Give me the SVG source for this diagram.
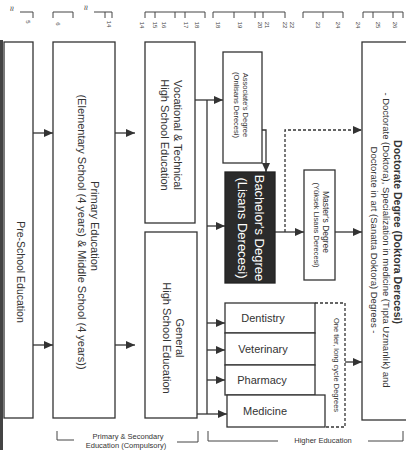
<svg xmlns="http://www.w3.org/2000/svg" width="406" height="450" viewBox="0 0 406 450">
<style>
.box{fill:#fff;stroke:#333;stroke-width:1.3}
.dark{fill:#2b2b2b;stroke:#222;stroke-width:1.3}
.t{font-family:"Liberation Sans",Arial,sans-serif;fill:#333;text-anchor:middle;dominant-baseline:central}
.w{fill:#fff}
.ln{stroke:#333;stroke-width:1.3;fill:none}
.dash{stroke:#333;stroke-width:1.3;fill:none;stroke-dasharray:3 2}
.tk{stroke:#444;stroke-width:1;fill:none}
.n{font-family:"Liberation Sans",Arial,sans-serif;fill:#444;font-size:6px;text-anchor:middle;dominant-baseline:central}
</style>
<defs>
<marker id="ah" markerWidth="9" markerHeight="8" refX="9" refY="4" orient="auto" markerUnits="userSpaceOnUse">
<path d="M0,0 L9,4 L0,8 z" fill="#333"/>
</marker>
</defs>
<rect x="0" y="0" width="406" height="450" fill="#fff"/>
<rect x="0" y="40" width="3" height="410" fill="#444"/>

<g id="ages">
<text class="t" x="12" y="9" font-size="9" transform="rotate(90 12 9)">≈</text>
<path class="tk" d="M20,12 H33 V18"/>
<text class="n" x="28" y="22" transform="rotate(90 28 22)">5</text>
<path class="tk" d="M53,18 V12 H73 V18"/>
<text class="n" x="58" y="24" transform="rotate(90 58 24)">6</text>
<text class="t" x="86" y="8" font-size="9" transform="rotate(90 86 8)">≈</text>
<path class="tk" d="M94,12 H112 V18 M105,12 V18"/>
<text class="n" x="109" y="24" transform="rotate(90 109 24)">14</text>
<path class="tk" d="M145,18 V12 H205 V18 M155,12 V18 M175,12 V18 M185,12 V18"/>
<text class="n" x="142" y="25" transform="rotate(90 142 25)">14</text>
<text class="n" x="155" y="25" transform="rotate(90 155 25)">15</text>
<text class="n" x="164" y="25" transform="rotate(90 164 25)">16</text>
<text class="n" x="186" y="25" transform="rotate(90 186 25)">17</text>
<text class="n" x="197" y="25" transform="rotate(90 197 25)">18</text>
<path class="tk" d="M213,18 V12 H285 V18 M234,12 V18 M255,12 V18 M263,12 V18"/>
<text class="n" x="218" y="25" transform="rotate(90 218 25)">18</text>
<text class="n" x="240" y="25" transform="rotate(90 240 25)">19</text>
<text class="n" x="260" y="25" transform="rotate(90 260 25)">20</text>
<text class="n" x="267" y="25" transform="rotate(90 267 25)">21</text>
<text class="n" x="285" y="25" transform="rotate(90 285 25)">22</text>
<text class="n" x="292" y="25" transform="rotate(90 292 25)">22</text>
<path class="tk" d="M303,18 V12 H343 V18 M323,12 V18"/>
<text class="n" x="318" y="25" transform="rotate(90 318 25)">23</text>
<text class="n" x="338" y="25" transform="rotate(90 338 25)">24</text>
<path class="tk" d="M363,18 V12 H403 V18 M373,12 V18 M393,12 V18"/>
<text class="n" x="358" y="25" transform="rotate(90 358 25)">24</text>
<text class="n" x="378" y="25" transform="rotate(90 378 25)">25</text>
<text class="n" x="395" y="25" transform="rotate(90 395 25)">26</text>
</g>

<g id="connectors">
<line class="ln" x1="33" y1="133" x2="53" y2="133" marker-end="url(#ah)"/>
<line class="ln" x1="33" y1="345" x2="53" y2="345" marker-end="url(#ah)"/>
<line class="ln" x1="115" y1="133" x2="135" y2="133" marker-end="url(#ah)"/>
<line class="ln" x1="115" y1="345" x2="135" y2="345" marker-end="url(#ah)"/>
<line class="ln" x1="195" y1="100" x2="223" y2="100" marker-end="url(#ah)"/>
<line class="ln" x1="207" y1="100" x2="207" y2="414"/>
<line class="ln" x1="207" y1="226" x2="225" y2="226" marker-end="url(#ah)"/>
<line class="ln" x1="207" y1="323" x2="225" y2="323" marker-end="url(#ah)"/>
<line class="ln" x1="207" y1="350" x2="225" y2="350" marker-end="url(#ah)"/>
<line class="ln" x1="207" y1="380" x2="225" y2="380" marker-end="url(#ah)"/>
<line class="ln" x1="197" y1="414" x2="227" y2="414" marker-end="url(#ah)"/>
<path class="ln" d="M262,130 H266 V172" marker-end="url(#ah)"/>
<line class="ln" x1="275" y1="232" x2="304" y2="232" marker-end="url(#ah)"/>
<line class="ln" x1="335" y1="232" x2="362" y2="232" marker-end="url(#ah)"/>
<path class="dash" d="M285,232 V130 H362" marker-end="url(#ah)"/>
<path class="dash" d="M315,303 H345 V427 H325"/>
<line class="ln" x1="345" y1="362" x2="362" y2="362" marker-end="url(#ah)"/>
</g>

<g id="preschool">
<rect class="box" x="4" y="42" width="29" height="376"/>
<text class="t" x="21" y="272" font-size="10.5" transform="rotate(90 21 272)">Pre-School Education</text>
</g>

<g id="primary">
<rect class="box" x="53" y="42" width="62" height="376"/>
<text class="t" x="95" y="226" font-size="11" transform="rotate(90 95 226)">Primary Education</text>
<text class="t" x="82" y="232" font-size="11" transform="rotate(90 82 232)">(Elementary School (4 years) &amp; Middle School (4 years))</text>
</g>

<g id="vocational">
<rect class="box" x="145" y="42" width="50" height="181"/>
<text class="t" x="178" y="135" font-size="11" transform="rotate(90 178 135)">Vocational &amp; Technical</text>
<text class="t" x="165" y="135" font-size="11" transform="rotate(90 165 135)">High School Education</text>
</g>

<g id="general">
<rect class="box" x="145" y="232" width="52" height="186"/>
<text class="t" x="180" y="338" font-size="11" transform="rotate(90 180 338)">General</text>
<text class="t" x="167" y="338" font-size="11" transform="rotate(90 167 338)">High School Education</text>
</g>

<g id="associate">
<rect class="box" x="223" y="52" width="39" height="111"/>
<text class="t" x="245" y="105" font-size="7.5" transform="rotate(90 245 105)">Associate's Degree</text>
<text class="t" x="236" y="105" font-size="7.5" transform="rotate(90 236 105)">(Onlisans Derecesi)</text>
</g>

<g id="bachelor">
<rect class="dark" x="225" y="172" width="50" height="111"/>
<text class="t w" x="259" y="228" font-size="13" transform="rotate(90 259 228)">Bachelor's Degree</text>
<text class="t w" x="242" y="228" font-size="13" transform="rotate(90 242 228)">(Lisans Derecesi)</text>
</g>

<g id="master">
<rect class="box" x="304" y="170" width="31" height="110"/>
<text class="t" x="326" y="222" font-size="8.5" transform="rotate(90 326 222)">Master's Degree</text>
<text class="t" x="316" y="225" font-size="7.5" transform="rotate(90 316 225)">(Yüksek Lisans Derecesi)</text>
</g>

<g id="doctorate">
<rect class="box" x="362" y="42" width="60" height="378"/>
<text class="t" x="398" y="232" font-size="10.5" font-weight="bold" transform="rotate(90 398 232)">Doctorate Degree (Doktora Derecesi)</text>
<text class="t" x="386" y="240" font-size="9.5" transform="rotate(90 386 240)">- Doctorate (Doktora), Specialization in medicine (Tıpta Uzmanlık) and</text>
<text class="t" x="374" y="240" font-size="9.5" transform="rotate(90 374 240)">Doctorate in art (Sanatta Doktora) Degrees -</text>
</g>

<g id="dentistry">
<rect class="box" x="225" y="303" width="90" height="30"/>
<text class="t" x="263" y="318" font-size="11">Dentistry</text>
</g>
<g id="veterinary">
<rect class="box" x="225" y="333" width="90" height="32"/>
<text class="t" x="263" y="349" font-size="11">Veterinary</text>
</g>
<g id="pharmacy">
<rect class="box" x="225" y="365" width="90" height="30"/>
<text class="t" x="262" y="380" font-size="11">Pharmacy</text>
</g>
<g id="medicine">
<rect class="box" x="227" y="395" width="98" height="32"/>
<text class="t" x="265" y="411" font-size="11">Medicine</text>
</g>
<g id="longcycle">
<text class="t" x="336" y="365" font-size="7.5" transform="rotate(90 336 365)">One tier, long cycle Degrees</text>
</g>

<g id="brackets">
<path class="tk" d="M57,431 V440 H74 M177,442 H198 V431"/>
<text class="t" x="128" y="436" font-size="7.5">Primary &amp; Secondary</text>
<text class="t" x="126" y="445" font-size="7.5">Education (Compulsory)</text>
<path class="tk" d="M208,431 V441 H278 M368,441 H403 V431"/>
<text class="t" x="323" y="440" font-size="7.5">Higher Education</text>
</g>
</svg>
